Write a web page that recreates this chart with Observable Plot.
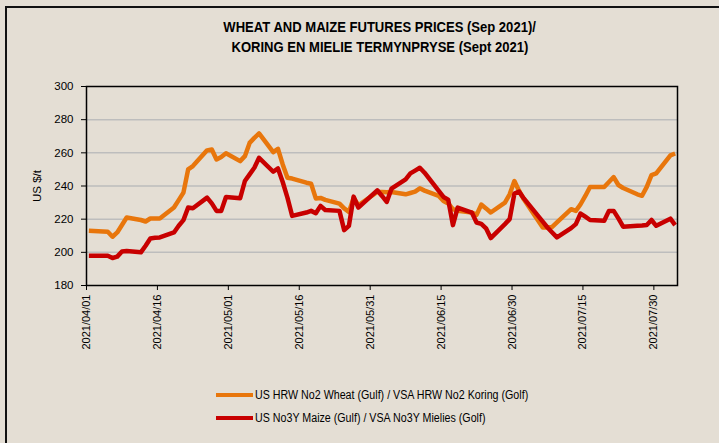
<!DOCTYPE html>
<html>
<head>
<meta charset="utf-8">
<script src="https://cdn.jsdelivr.net/npm/d3@7"></script>
<script src="https://cdn.jsdelivr.net/npm/@observablehq/plot@0.6"></script>
<style>
  html, body { margin: 0; padding: 0; background: #ffffff; }
  #chart { position: relative; width: 719px; height: 443px; overflow: hidden; background: #e4ded4;
    font-family: "Liberation Sans Narrow", "Arial Narrow", "Liberation Sans", Arial, sans-serif; color: #000; }
  #border { position: absolute; left: 5px; top: 6px; width: 740px; height: 470px;
    border-top: 2px solid #111; border-left: 2px solid #111; pointer-events: none; }
  #title { position: absolute; top: 17px; left: 0; width: 760px; text-align: center; }
  #title span { display: inline-block; transform: scaleX(0.9); transform-origin: center;
    font-weight: bold; font-size: 14.5px; line-height: 20px; }
  #plot { position: absolute; left: 0; top: 60px; }
  #legend { position: absolute; left: 216px; top: 386px; font-size: 12px; }
  .item { display: flex; align-items: center; height: 17px; margin-bottom: 6px; }
  .sw { width: 37px; height: 4px; margin-right: 2px; flex: none; }
  .item span { display: inline-block; transform: scaleX(0.89); transform-origin: left center; white-space: nowrap; }
</style>
</head>
<body>
<div id="chart">
  <div id="title"></div>
  <div id="plot"></div>
  <div id="legend"></div>
  <div id="border"></div>
</div>
<script>
const titleLines = ["WHEAT AND MAIZE FUTURES PRICES (Sep 2021)/", "KORING EN MIELIE TERMYNPRYSE (Sept 2021)"];
const seriesNames = ["US HRW No2 Wheat (Gulf) / VSA HRW No2 Koring (Golf)", "US No3Y Maize (Gulf) / VSA No3Y Mielies (Golf)"];
const seriesColors = ["#e8760c", "#c80000"];
const yLabel = "US $/t";
const yTicks = [180, 200, 220, 240, 260, 280, 300];
const xTicks = ["2021-04-01","2021-04-16","2021-05-01","2021-05-16","2021-05-31","2021-06-15","2021-06-30","2021-07-15","2021-07-30"];
const xDomain = ["2021-04-01", "2021-08-04"];

const dates = ["2021-04-01","2021-04-05","2021-04-06","2021-04-07","2021-04-08","2021-04-09","2021-04-12","2021-04-13","2021-04-14","2021-04-15","2021-04-16","2021-04-19","2021-04-20","2021-04-21","2021-04-22","2021-04-23","2021-04-26","2021-04-27","2021-04-28","2021-04-29","2021-04-30",
"2021-05-03","2021-05-04","2021-05-05","2021-05-06","2021-05-07","2021-05-10","2021-05-11","2021-05-12","2021-05-13","2021-05-14","2021-05-17","2021-05-18","2021-05-19","2021-05-20","2021-05-21","2021-05-24","2021-05-25","2021-05-26","2021-05-27","2021-05-28",
"2021-06-01","2021-06-02","2021-06-03","2021-06-04","2021-06-07","2021-06-08","2021-06-09","2021-06-10","2021-06-11","2021-06-14","2021-06-15","2021-06-16","2021-06-17","2021-06-18","2021-06-21","2021-06-22","2021-06-23","2021-06-24","2021-06-25","2021-06-28","2021-06-29","2021-06-30",
"2021-07-01","2021-07-02","2021-07-06","2021-07-07","2021-07-08","2021-07-09","2021-07-12","2021-07-13","2021-07-14","2021-07-15","2021-07-16","2021-07-19","2021-07-20","2021-07-21","2021-07-22","2021-07-23","2021-07-26","2021-07-27","2021-07-28","2021-07-29","2021-07-30",
"2021-08-02","2021-08-03"];

const wheat = [213, 212.4, 209.4, 212, 216.5, 221, 219.5, 218.6, 220.4, 220.4, 220.4, 227, 231.5, 236, 250, 252, 261.5, 262, 256, 257.5, 259.7,
255, 258, 266, 269, 271.7, 260.4, 262.4, 253, 245, 244.5, 242, 241.4, 232.5, 232.8, 231.6, 229.4, 226.5, 224.4, 232.8, 228.4,
236.4, 236.4, 236.2, 236.4, 235, 235.8, 236.6, 238.6, 237.2, 234, 231, 229.5, 226, 225, 224, 222.6, 228.8, 226.5, 224, 230, 235, 243,
237, 232, 215, 215, 215.3, 218, 226, 225, 229, 234, 239.4, 239.4, 242.4, 245.4, 240.6, 238.8, 235, 234.1, 239.5, 246.6, 247.6,
258.5, 259.6];

const maize = [198, 198, 196.6, 197.4, 200.5, 200.8, 200, 204, 208.4, 208.8, 209, 212, 216, 219.4, 227, 226.6, 233, 229.5, 225, 225, 233.4,
232.6, 243, 247, 251, 257, 248.6, 250.6, 242.4, 233, 222, 224, 225, 223.6, 228, 225.5, 225, 213.4, 216, 233.6, 227,
237.4, 234, 230.4, 238.4, 244, 247.6, 249.3, 251, 248, 237, 233.4, 231.8, 216.4, 227, 224, 218, 217.2, 214.5, 208.6, 217, 220, 235.4,
236.6, 232.5, 218.5, 215, 212, 209, 214.6, 217, 223.4, 221.5, 219.5, 219, 225, 225, 220.5, 215.5, 216, 216.2, 216.5, 219.5, 216,
220.3, 216.4];

const parse = d3.utcParse("%Y-%m-%d");
const halfDay = 12 * 3600 * 1000;
const rows = (vals, name) => dates.map((d, i) => ({date: parse(d), value: vals[i], series: name}));
const wheatRows = rows(wheat, seriesNames[0]);
const maizeRows = rows(maize, seriesNames[1]);

const titleEl = document.getElementById("title");
titleLines.forEach((t, i) => {
  const s = document.createElement("span");
  s.textContent = t;
  titleEl.appendChild(s);
  if (i < titleLines.length - 1) titleEl.appendChild(document.createElement("br"));
});

const font = '"Liberation Sans Narrow", "Arial Narrow", "Liberation Sans", Arial, sans-serif';

const plot = Plot.plot({
  width: 719,
  height: 300,
  marginLeft: 86,
  marginRight: 42,
  marginTop: 26,
  marginBottom: 75,
  style: {background: "transparent", fontFamily: font, fontSize: "12px", color: "#000", overflow: "visible"},
  x: {type: "utc", domain: xDomain.map(parse)},
  y: {domain: [yTicks[0], yTicks[yTicks.length - 1]]},
  marks: [
    Plot.gridY(yTicks.slice(1, -1), {stroke: "#bdbdbd", strokeOpacity: 1, strokeWidth: 1.5}),
    Plot.line(wheatRows, {x: d => new Date(+d.date + halfDay), y: "value", stroke: seriesColors[0], strokeWidth: 4.5, strokeLinejoin: "round", strokeLinecap: "butt"}),
    Plot.line(maizeRows, {x: d => new Date(+d.date + halfDay), y: "value", stroke: seriesColors[1], strokeWidth: 4.5, strokeLinejoin: "round", strokeLinecap: "butt"}),
    Plot.frame({stroke: "#000", strokeWidth: 1.5}),
    Plot.axisY({ticks: yTicks, tickSize: 5, tickPadding: 8, fontSize: 11.5, label: yLabel, labelAnchor: "center", labelArrow: "none", labelOffset: 54}),
    Plot.axisX({ticks: xTicks.map(parse), tickFormat: d3.utcFormat("%Y/%m/%d"), tickRotate: -90, tickSize: 5, tickPadding: 4, fontSize: 11, label: null})
  ]
});
document.getElementById("plot").appendChild(plot);

const legend = document.getElementById("legend");
seriesNames.forEach((name, i) => {
  const item = document.createElement("div");
  item.className = "item";
  const sw = document.createElement("div");
  sw.className = "sw";
  sw.style.background = seriesColors[i];
  const tx = document.createElement("span");
  tx.textContent = name;
  item.appendChild(sw);
  item.appendChild(tx);
  legend.appendChild(item);
});
</script>
</body>
</html>
